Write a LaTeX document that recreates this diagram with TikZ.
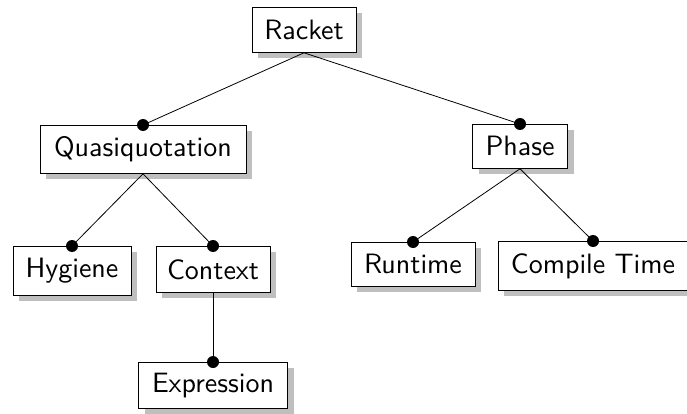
\documentclass[tikz,border=0pt]{standalone}
\usepackage{fontspec}
\setsansfont{lmsans10-regular.otf}
\usetikzlibrary{shadows}
\begin{document}
\begin{tikzpicture}[x=1pt,y=-1pt,
  box/.style={draw, line width=0.8pt, fill=white, anchor=north, inner sep=0pt,
    font=\fontsize{28}{32}\selectfont\sffamily,
    drop shadow={shadow xshift=6pt, shadow yshift=-6pt, fill=black!25, opacity=1}},
  edge/.style={line width=0.8pt},
  dot/.style={fill=black, circle, inner sep=0pt, minimum size=12pt}]
\useasboundingbox (0,0) rectangle (687,414);
\node[box, minimum width=104pt, minimum height=45pt] (racket) at (304,7) {Racket};
\node[box, minimum width=206pt, minimum height=48pt] (quasi) at (143,125) {Quasiquotation};
\node[box, minimum width=95pt, minimum height=44pt] (phase) at (520,124) {Phase};
\node[box, minimum width=118pt, minimum height=49pt] (hyg) at (72,246) {Hygiene};
\node[box, minimum width=114pt, minimum height=46pt] (ctx) at (213,246) {Context};
\node[box, minimum width=149pt, minimum height=46pt] (expr) at (213,362) {Expression};
\node[box, minimum width=124pt, minimum height=44pt] (run) at (413,242) {Runtime};
\node[box, minimum width=190pt, minimum height=49pt] (comp) at (593,241) {Compile Time};
\foreach \p/\c in {racket/quasi, racket/phase, quasi/hyg, quasi/ctx, ctx/expr, phase/run, phase/comp}{
  \draw[edge] (\p.south) -- (\c.north);
  \node[dot] at (\c.north) {};
}
\end{tikzpicture}
\end{document}
